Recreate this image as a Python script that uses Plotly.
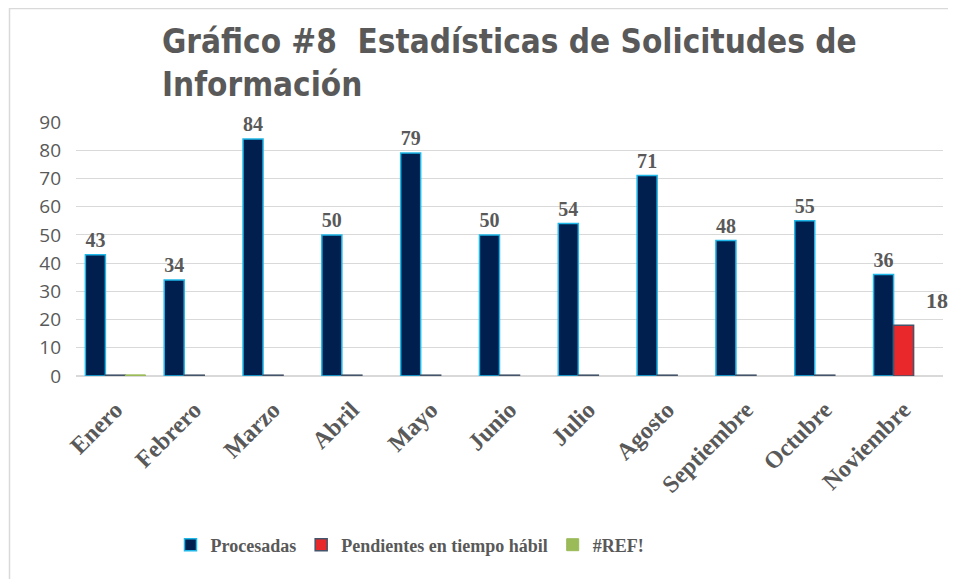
import plotly.graph_objects as go

meses = ["Enero", "Febrero", "Marzo", "Abril", "Mayo", "Junio", "Julio",
         "Agosto", "Septiembre", "Octubre", "Noviembre"]
procesadas = [43, 34, 84, 50, 79, 50, 54, 71, 48, 55, 36]
pendientes = [0, 0, 0, 0, 0, 0, 0, 0, 0, 0, 18]
ref_err = [0, None, None, None, None, None, None, None, None, None, None]

titulo = "Gráfico #8  Estadísticas de Solicitudes de<br>Información"

# the page body has an 8px margin, so the figure is 8px smaller than the window
OFF = 8
W, H = 956 - OFF, 579 - OFF
L, R, T, B = 76 - OFF, 13, 122 - OFF, 203
PW, PH = W - L - R, H - T - B

def fx(px):  # page px -> paper fraction
    return (px - OFF - L) / PW

def fy(py):
    return (H - B - (py - OFF)) / PH

# zero-valued bars are shown as a hairline at the baseline
EPS = 0.3
pend_draw = [v if v > 0 else EPS for v in pendientes]
ref_draw = [None if v is None else (v if v > 0 else 0.4) for v in ref_err]

GRAY = "#595959"
serif = "Liberation Serif, Times New Roman, serif"

fig = go.Figure()
fig.add_trace(go.Bar(
    name="Procesadas", x=meses, y=procesadas,
    marker=dict(color="#001F4F", line=dict(color="#1FB8E8", width=1.5)),
    text=procesadas, texttemplate="%{text}", textposition="outside",
    textfont=dict(family=serif, size=22, color=GRAY, weight="bold"),
    cliponaxis=False,
))
fig.add_trace(go.Bar(
    name="Pendientes en tiempo hábil", x=meses, y=pend_draw,
    customdata=pendientes, hovertemplate="%{x}: %{customdata}<extra></extra>",
    marker=dict(color="#E8282A", line=dict(color="#44546A", width=1.5)),
))
fig.add_trace(go.Bar(
    name="#REF!", x=meses, y=ref_draw,
    customdata=ref_err, hovertemplate="%{x}: %{customdata}<extra></extra>",
    marker=dict(color="#9BBB59", line=dict(color="#9BBB59", width=1)),
))

fig.add_annotation(
    x=meses[-1], y=pendientes[-1], text=str(pendientes[-1]), showarrow=False,
    xshift=33, yshift=25, font=dict(family=serif, size=22, color=GRAY, weight="bold"),
)

fig.add_shape(type="rect", xref="paper", yref="paper",
              x0=fx(9.5), x1=fx(1000), y0=fy(8.5), y1=fy(620),
              line=dict(color="#D9D9D9", width=1.5), layer="below")

fig.update_layout(
    width=W, height=H,
    margin=dict(l=L, r=R, t=T, b=B),
    paper_bgcolor="white", plot_bgcolor="white",
    barmode="group", bargap=0.238, bargroupgap=0,
    title=dict(text=titulo, x=fx(162), xref="paper", xanchor="left",
               y=1 - 45 / H, yref="container", yanchor="top",
               font=dict(family="Liberation Sans Narrow, DejaVu Sans Condensed, Arial Narrow, sans-serif",
                         size=33, color=GRAY, weight="bold")),
    legend=dict(orientation="h", x=fx(410), xanchor="center", y=fy(545), yanchor="middle",
                font=dict(family=serif, size=18, color=GRAY, weight="bold"),
                itemwidth=30, traceorder="normal"),
    showlegend=True,
)
fig.update_yaxes(range=[0, 90], dtick=10, showgrid=True, gridcolor="#D9D9D9", gridwidth=1,
                 zeroline=True, zerolinecolor="#D9D9D9", showline=False,
                 tickfont=dict(family="Open Sans, Liberation Sans, sans-serif", size=19, color=GRAY),
                 ticklabelstandoff=14)
fig.update_xaxes(tickangle=-45, showline=False, showgrid=False, automargin=False,
                 range=[-0.5, len(meses) - 0.5],
                 tickfont=dict(family=serif, size=24, color=GRAY, weight="bold"),
                 ticklabelstandoff=14)

fig.write_html("out.html")
